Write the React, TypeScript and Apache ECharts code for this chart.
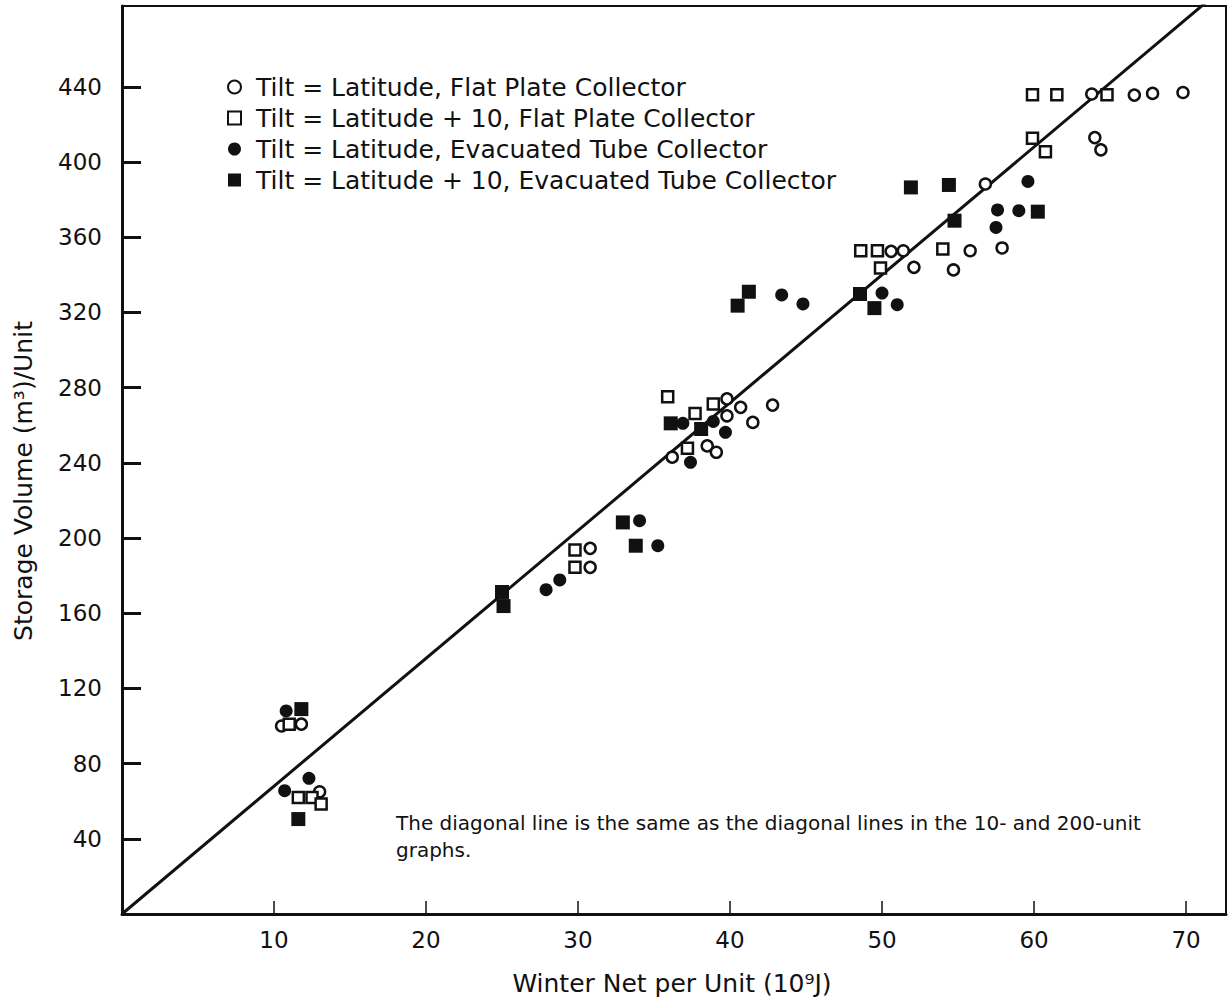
import React, { useEffect, useRef } from "react";
import * as echarts from "echarts";

const X_MAX = 72.63;
const Y_MAX = 483;
const SLOPE = 6.8;

const xTicks = [10, 20, 30, 40, 50, 60, 70];
const yTicks = [40, 80, 120, 160, 200, 240, 280, 320, 360, 400, 440];

const seriesNames = [
  "Tilt = Latitude, Flat Plate Collector",
  "Tilt = Latitude + 10, Flat Plate Collector",
  "Tilt = Latitude, Evacuated Tube Collector",
  "Tilt = Latitude + 10, Evacuated Tube Collector",
];

const flatPlateLat = [
  [10.5, 100], [11.8, 101], [13.0, 65],
  [30.8, 194.5], [30.8, 184.4],
  [39.8, 274], [40.7, 269.5], [42.8, 270.7], [39.8, 265], [41.5, 261.5],
  [36.2, 243], [38.5, 249], [39.1, 245.6],
  [50.6, 352.5], [51.4, 352.8], [55.8, 352.8], [57.9, 354.3], [52.1, 344], [54.7, 342.6], [56.8, 388.3],
  [63.8, 436.2], [66.6, 435.6], [67.8, 436.5], [69.8, 437], [64.0, 413], [64.4, 406.5],
];

const flatPlateLat10 = [
  [11.0, 101], [11.6, 62], [12.5, 62], [13.1, 58.5],
  [29.8, 193.6], [29.8, 184.4],
  [35.9, 275.2], [38.9, 271.3], [37.7, 266.3], [37.2, 247.7],
  [48.6, 352.8], [49.7, 352.8], [54.0, 353.7], [49.9, 343.6],
  [59.9, 435.8], [61.5, 435.8], [64.8, 435.8], [59.9, 412.6], [60.75, 405.5],
];

const evacLat = [
  [10.8, 108], [12.3, 72.2], [10.7, 65.6],
  [27.9, 172.5], [28.8, 177.7], [34.05, 209.2], [35.25, 195.9],
  [36.9, 261], [38.9, 262], [39.7, 256.2], [37.4, 240.3],
  [43.4, 329.3], [44.8, 324.5], [50.0, 330.3], [51.0, 324.1],
  [59.6, 389.7], [57.6, 374.5], [59.0, 374.1], [57.5, 365.2],
];

const evacLat10 = [
  [11.8, 109], [11.6, 50.5],
  [25.0, 171.3], [25.1, 163.8],
  [32.95, 208.3], [33.8, 195.9],
  [36.1, 261], [38.1, 258],
  [41.24, 331], [40.5, 323.6],
  [48.55, 329.8], [49.5, 322.3],
  [51.9, 386.5], [54.4, 387.8], [54.77, 368.8], [60.25, 373.6],
];

const diagonal = [
  [0, 0],
  [X_MAX, X_MAX * SLOPE],
];

const INK = "#111";
const FONT = "DejaVu Sans";

export default function App() {
  const ref = useRef<HTMLDivElement>(null);
  useEffect(() => {
    if (!ref.current) return;
    const chart = echarts.init(ref.current, undefined, { renderer: "svg" });
    const openStyle = { color: "#fff", borderColor: INK, borderWidth: 2.5, opacity: 1 };
    const fillStyle = { color: INK, borderColor: INK, borderWidth: 0, opacity: 1 };
    const option = {
      animation: false,
      backgroundColor: "#fff",
      grid: {
        left: 122,
        right: 2,
        top: 6,
        bottom: 86,
        show: true,
        borderColor: INK,
        borderWidth: 2,
        backgroundColor: "transparent",
      },
      legend: {
        orient: "vertical",
        left: 222,
        top: 69,
        itemWidth: 13,
        itemHeight: 13,
        itemGap: 5,
        data: seriesNames,
        textStyle: {
          fontSize: 25,
          fontFamily: FONT,
          color: INK,
          lineHeight: 26,
          padding: [0, 0, 0, 10],
        },
      },
      xAxis: {
        type: "value",
        min: 0,
        max: X_MAX,
        splitLine: { show: false },
        axisLine: { lineStyle: { color: INK, width: 3 } },
        axisTick: {
          inside: true,
          length: 13,
          customValues: xTicks,
          lineStyle: { color: INK, width: 1.5 },
        },
        axisLabel: {
          customValues: xTicks,
          fontSize: 23,
          fontFamily: FONT,
          color: INK,
          margin: 14,
        },
      },
      yAxis: {
        type: "value",
        min: 0,
        max: Y_MAX,
        splitLine: { show: false },
        axisLine: { lineStyle: { color: INK, width: 3 } },
        axisTick: {
          inside: true,
          length: 19,
          customValues: yTicks,
          lineStyle: { color: INK, width: 3 },
        },
        axisLabel: {
          customValues: yTicks,
          fontSize: 23,
          fontFamily: FONT,
          color: INK,
          margin: 20,
        },
      },
      graphic: [
        {
          type: "text",
          x: 23,
          y: 481,
          rotation: Math.PI / 2,
          style: {
            text: "Storage Volume (m³)/Unit",
            fontSize: 25,
            fontFamily: FONT,
            fill: INK,
            align: "center",
            verticalAlign: "middle",
          },
        },
        {
          type: "text",
          x: 672,
          y: 983,
          style: {
            text: "Winter Net per Unit (10⁹J)",
            fontSize: 25,
            fontFamily: FONT,
            fill: INK,
            align: "center",
            verticalAlign: "middle",
          },
        },
        {
          type: "text",
          x: 396,
          y: 809,
          style: {
            text: "The diagonal line is the same as the diagonal lines in the 10- and 200-unit\ngraphs.",
            fontSize: 20,
            lineHeight: 27,
            fontFamily: FONT,
            fill: INK,
            align: "left",
            verticalAlign: "top",
          },
        },
      ],
      series: [
        {
          type: "line",
          name: "diagonal",
          data: diagonal,
          symbol: "none",
          clip: true,
          silent: true,
          lineStyle: { color: INK, width: 3 },
          z: 1,
        },
        {
          type: "scatter",
          name: seriesNames[0],
          data: flatPlateLat,
          symbol: "circle",
          symbolSize: 11,
          itemStyle: openStyle,
          z: 3,
        },
        {
          type: "scatter",
          name: seriesNames[1],
          data: flatPlateLat10,
          symbol: "rect",
          symbolSize: 11,
          itemStyle: openStyle,
          z: 3,
        },
        {
          type: "scatter",
          name: seriesNames[2],
          data: evacLat,
          symbol: "circle",
          symbolSize: 13,
          itemStyle: fillStyle,
          z: 3,
        },
        {
          type: "scatter",
          name: seriesNames[3],
          data: evacLat10,
          symbol: "rect",
          symbolSize: 14,
          itemStyle: fillStyle,
          z: 3,
        },
      ],
    };
    chart.setOption(option as any);
    return () => chart.dispose();
  }, []);
  return (
    <div
      ref={ref}
      style={{ position: "absolute", left: 0, top: 0, width: 1228, height: 1000 }}
    />
  );
}
